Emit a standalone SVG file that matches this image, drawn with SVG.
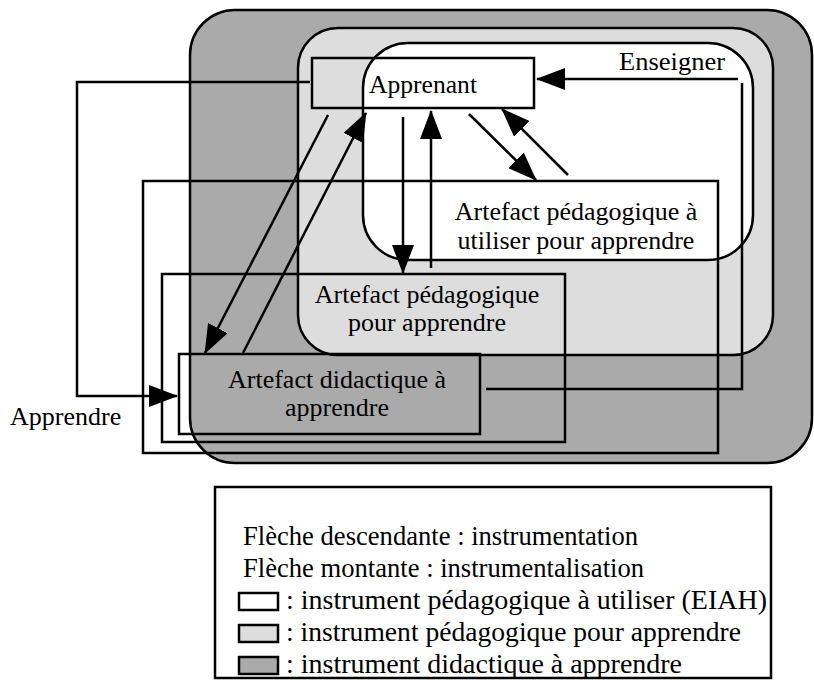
<svg xmlns="http://www.w3.org/2000/svg" width="814" height="680" viewBox="0 0 814 680">
<style>
text{font-family:"Liberation Serif","Times New Roman",serif;font-size:26px;fill:#000}
.lg{font-size:26.6px}
.ln{fill:none;stroke:#000;stroke-width:2.5}
.zone{stroke:#000;stroke-width:2.5}
.arr{fill:none;stroke:#000;stroke-width:2.5;marker-end:url(#ah)}
</style>
<defs>
<marker id="ah" markerUnits="userSpaceOnUse" markerWidth="30" markerHeight="22" refX="28" refY="11" orient="auto">
<path d="M0,0 L29,11 L0,22 z" fill="#000"/>
</marker>
</defs>
<g id="zones">
<rect id="zone-didactique" class="zone" x="190" y="10" width="622" height="453" rx="45" ry="45" fill="#aaaaaa"/>
<rect id="zone-pedagogique" class="zone" x="298" y="28" width="475" height="327" rx="40" ry="40" fill="#dddddd"/>
<rect id="zone-eiah" class="zone" x="363" y="43" width="390" height="217" rx="45" ry="45" fill="#ffffff"/>
</g>
<g id="node-apprenant">
<rect class="ln" x="312" y="58" width="222" height="50"/>
<text x="369" y="93" textLength="108" lengthAdjust="spacingAndGlyphs">Apprenant</text>
</g>
<g id="node-artefact-utiliser">
<rect class="ln" x="143" y="181" width="575" height="272"/>
<text x="576" y="220" text-anchor="middle">Artefact pédagogique à</text>
<text x="576" y="249" text-anchor="middle">utiliser pour apprendre</text>
</g>
<g id="node-artefact-pedagogique">
<rect class="ln" x="162" y="274" width="403" height="168"/>
<text x="427" y="303" text-anchor="middle">Artefact pédagogique</text>
<text x="427" y="331" text-anchor="middle">pour apprendre</text>
</g>
<g id="node-artefact-didactique">
<rect class="ln" x="179" y="354" width="301" height="80"/>
<text x="337" y="388" text-anchor="middle">Artefact didactique à</text>
<text x="337" y="416" text-anchor="middle">apprendre</text>
</g>
<g id="connectors">
<path class="arr" d="M328,115 L205,353"/>
<path class="arr" d="M243,353 L366,113"/>
<path class="arr" d="M403,117 L403,273"/>
<path class="arr" d="M431,268 L431,111"/>
<path class="arr" d="M469,114 L536,180"/>
<path class="arr" d="M568,175 L502,109"/>
<path class="ln" d="M486,389 H742 V83"/>
<path class="arr" d="M738,79 H537"/>
<path class="arr" d="M310,82 H77 V396 H177"/>
</g>
<g id="labels">
<text x="619" y="70" textLength="106" lengthAdjust="spacingAndGlyphs">Enseigner</text>
<text x="10" y="425">Apprendre</text>
</g>
<g id="legend">
<rect class="ln" x="215" y="487" width="556" height="191" fill="#fff"/>
<text class="lg" x="243" y="545">Flèche descendante : instrumentation</text>
<text class="lg" x="243" y="577">Flèche montante : instrumentalisation</text>
<rect class="zone" x="239" y="593" width="39" height="17" fill="#ffffff"/>
<text class="lg" x="286" y="609" textLength="481" lengthAdjust="spacingAndGlyphs">: instrument pédagogique à utiliser (EIAH)</text>
<rect class="zone" x="239" y="625" width="39" height="17" fill="#dddddd"/>
<text class="lg" x="286" y="641" textLength="455" lengthAdjust="spacingAndGlyphs">: instrument pédagogique pour apprendre</text>
<rect class="zone" x="239" y="657" width="39" height="17" fill="#aaaaaa"/>
<text class="lg" x="286" y="673" textLength="396" lengthAdjust="spacingAndGlyphs">: instrument didactique à apprendre</text>
</g>
</svg>
